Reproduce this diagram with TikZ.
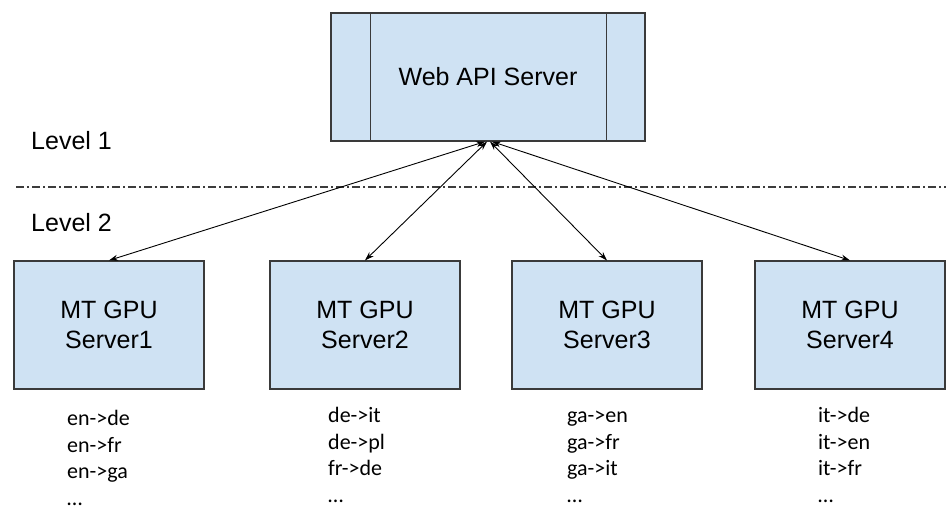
\documentclass[tikz,border=0pt]{standalone}
\usepackage{fontspec}
\setmainfont{Liberation Sans}
\newfontfamily\listfont{Carlito}
\usetikzlibrary{arrows.meta}
\definecolor{boxfill}{HTML}{CFE2F3}
\definecolor{boxline}{HTML}{3A3A3A}
\definecolor{sepline}{HTML}{3C3C3C}
\tikzset{
  server/.style={draw=boxline, fill=boxfill, line width=1.2pt, rectangle,
    minimum width=190pt, minimum height=128pt, align=center, inner sep=0pt,
    font=\fontsize{25}{30}\selectfont},
  webbox/.style={server, minimum width=314pt},
  level/.style={anchor=base west, inner sep=0pt, font=\fontsize{25}{30}\selectfont},
  % multi-line node: its base anchor sits on the baseline of the last line
  langs/.style={anchor=base west, inner sep=0pt, align=left,
    font=\listfont\fontsize{22}{26.5}\selectfont},
  link/.style={{Stealth[length=9pt,width=6pt]}-{Stealth[length=9pt,width=6pt]}, line width=0.9pt, black}
}
\begin{document}
\begin{tikzpicture}[x=1pt, y=-1pt]
\useasboundingbox (0,0) rectangle (946,509);

% Level 1: web front-end
\node[webbox] (web) at (488,77) {Web API Server};
\draw[boxline, line width=1.2pt] ([xshift=40pt]web.north west) -- ([xshift=40pt]web.south west);
\draw[boxline, line width=1.2pt] ([xshift=-39pt]web.north east) -- ([xshift=-39pt]web.south east);

% level labels and separator
\node[level] (lv1) at (31,149) {Level 1};
\node[level] (lv2) at (31,231) {Level 2};
\coordinate (sepL) at (16,187);
\coordinate (sepR) at (946,187);
\draw[sepline, line width=1.1pt, dash pattern=on 8pt off 3pt on 2pt off 3pt] (sepL) -- (sepR);

% Level 2: translation servers
\node[server] (g1) at (109,325) {MT GPU\\Server1};
\node[server] (g2) at (365,325) {MT GPU\\Server2};
\node[server] (g3) at (607,325) {MT GPU\\Server3};
\node[server] (g4) at (850,325) {MT GPU\\Server4};

% connections
\draw[link] ([xshift=-3pt]web.south) -- (g1.north);
\draw[link] ([xshift=-1pt]web.south) -- (g2.north);
\draw[link] ([xshift=2pt]web.south) -- (g3.north);
\draw[link] ([xshift=4pt]web.south) -- (g4.north);

% language pairs served by each server
\node[langs] (p1) at (67,505) {en->de\\en->fr\\en->ga\\…};
\node[langs] (p2) at (328,502) {de->it\\de->pl\\fr->de\\…};
\node[langs] (p3) at (567,502) {ga->en\\ga->fr\\ga->it\\…};
\node[langs] (p4) at (818,502) {it->de\\it->en\\it->fr\\…};
\end{tikzpicture}
\end{document}
